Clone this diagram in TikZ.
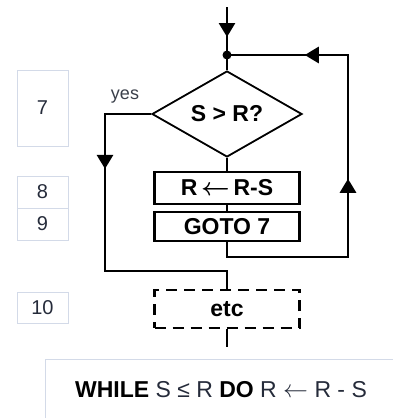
\documentclass[tikz,border=0pt]{standalone}
\usepackage{fontspec}
\setmainfont{Liberation Sans}
\usetikzlibrary{shapes.geometric,arrows.meta,decorations.markings}
\definecolor{numcol}{HTML}{D3DAE8}
\definecolor{txtcol}{HTML}{252B3A}
\definecolor{yescol}{HTML}{3A3F4A}
\newcommand{\larr}{\ensuremath{\leftarrow}}
\begin{document}
\begin{tikzpicture}[x=1pt,y=-1pt,
  flow/.style={line width=2.8pt},
  stepbox/.style={draw, line width=2.5pt, minimum width=145pt, inner sep=0pt,
    font=\fontsize{23}{24}\selectfont\bfseries\boldmath},
  numbox/.style={draw=numcol, line width=0.9pt, minimum width=51pt, inner sep=0pt,
    text=txtcol, font=\fontsize{20}{22}\selectfont},
  arrowat/.style={postaction={decorate}, decoration={markings,
    mark=at position #1 with {\arrow{Triangle[width=16pt,length=14pt]}}}},
  arrowsat/.style 2 args={postaction={decorate}, decoration={markings,
    mark=at position #1 with {\arrow{Triangle[width=16pt,length=14pt]}},
    mark=at position #2 with {\arrow{Triangle[width=16pt,length=14pt]}}}}
]
\useasboundingbox (0,0) rectangle (393,418);

% line number boxes
\node[numbox, minimum height=76pt] (n7) at (42.5,108) {7};
\node[numbox, minimum height=32pt] (n8) at (42.5,192) {8};
\node[numbox, minimum height=32pt] (n9) at (42.5,224) {9};
\node[numbox, minimum height=31pt] (n10) at (42.5,307.5) {10};

% flowchart
\coordinate (start) at (227,7);
\coordinate (J) at (227,55);
\node[diamond, draw, line width=1.8pt, minimum width=150pt, minimum height=86pt,
  aspect=1.75, inner sep=0pt, font=\fontsize{23}{24}\selectfont\bfseries] (D) at (227,114) {S > R?};
\node[stepbox, minimum height=32pt] (R) at (227,188) {R\,\larr\,R-S};
\node[stepbox, minimum height=29pt] (G) at (227,226.5) {GOTO 7};
\node[stepbox, dashed, dash pattern=on 11pt off 7pt, minimum height=38pt] (E) at (227,309) {etc};
\node[text=yescol, font=\fontsize{18}{20}\selectfont, anchor=base] (yes) at (125,99) {yes};

\coordinate (yl1) at (105,114);
\coordinate (yl2) at (105,271);
\coordinate (yl3) at (227,271);
\coordinate (lp1) at (348,257);
\coordinate (lp2) at (348,55);
\coordinate (below) at (227,347);

\draw[flow, arrowat=30pt] (start) -- (J);
\fill (J) circle (4.5pt);
\draw[flow] (J) -- (D.north);
\draw[flow] (D.south) -- (R.north);
\draw[flow] (R.south) -- (G.north);
\draw[flow, arrowsat={214pt}{381pt}] (G.south) |- (lp1) -- (lp2) -- (J);
\draw[flow, arrowat=101pt] (D.west) -- (yl1) -- (yl2) -- (yl3) -- (E.north);
\draw[flow] (E.south) -- (below);

% WHILE box
\node[draw=numcol, line width=0.9pt, minimum width=352pt, minimum height=62pt,
  inner sep=0pt, anchor=north west] (W) at (45,359) {};
\node[text=txtcol, font=\fontsize{23}{24}\selectfont] (wtext) at (221,390)
  {\textcolor{black}{\bfseries WHILE} S ≤ R \textcolor{black}{\bfseries DO} R \larr\ R - S};
\end{tikzpicture}
\end{document}
